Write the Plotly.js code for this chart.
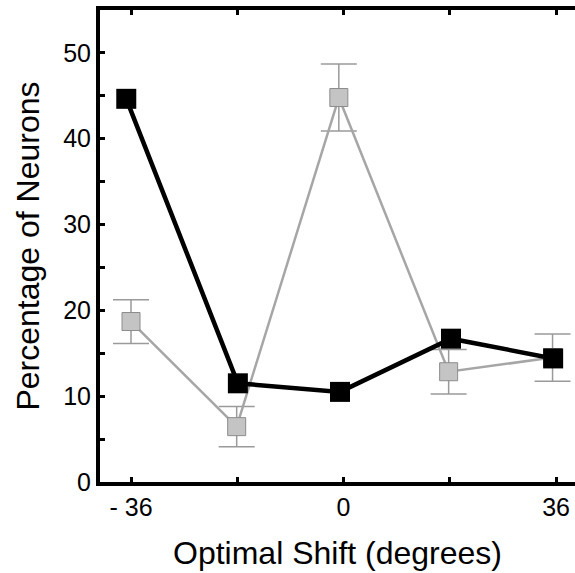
<!DOCTYPE html>
<html>
<head>
<meta charset="utf-8">
<script src="https://cdn.plot.ly/plotly-3.0.1.min.js"></script>
<style>html,body{margin:0;padding:0;background:#fff;}#chart{width:575px;height:573px;}</style>
</head>
<body>
<div id="chart"></div>
<script>
// Data
const blackX = [-36.8, -17.9, -0.6, 18.2, 35.5];
const blackY = [44.65, 11.5, 10.5, 16.7, 14.4];

const grayX = [-36, -18.1, -0.8, 17.8, 35.4];
const grayY = [18.7, 6.45, 44.8, 12.85, 14.5];
const grayErr = [2.55, 2.35, 3.9, 2.6, 2.75];

const xTickVals = [-36, -18, 0, 18, 36];
const xTickText = ['- 36', '', '0', '', '36'];
const yTickVals = [0, 5, 10, 15, 20, 25, 30, 35, 40, 45, 50];
const yTickText = ['0', '', '10', '', '20', '', '30', '', '40', '', '50'];

const FONT = '"Liberation Sans", Arial, Helvetica, sans-serif';

const traces = [
  {
    x: grayX, y: grayY, type: 'scatter', mode: 'lines+markers',
    line: {color: '#a6a6a6', width: 2.5},
    marker: {symbol: 'square', size: 18, color: '#c4c4c4', line: {color: '#8c8c8c', width: 1}},
    error_y: {type: 'data', array: grayErr, visible: true, color: '#9a9a9a', thickness: 1.5, width: 18},
    hoverinfo: 'skip', showlegend: false
  },
  {
    x: blackX, y: blackY, type: 'scatter', mode: 'lines+markers',
    line: {color: '#000000', width: 4.5},
    marker: {symbol: 'square', size: 20, color: '#000000'},
    hoverinfo: 'skip', showlegend: false
  }
];

const layout = {
  width: 575, height: 573,
  margin: {l: 100, r: 0, t: 10, b: 91, pad: 0},
  paper_bgcolor: '#ffffff', plot_bgcolor: '#ffffff',
  font: {family: FONT, color: '#000000', size: 25},
  showlegend: false,
  xaxis: {
    range: [-41.25, 39.2],
    tickmode: 'array', tickvals: xTickVals, ticktext: xTickText,
    ticks: 'inside', ticklen: 5, tickwidth: 3, tickcolor: '#000',
    showline: true, linewidth: 4, linecolor: '#000', mirror: 'ticks',
    showgrid: false, zeroline: false,
    tickfont: {family: FONT, size: 25, color: '#000'},
    ticklabelstandoff: 0,
    title: {text: 'Optimal Shift (degrees)', font: {family: FONT, size: 32, color: '#000'}, standoff: 23},
    automargin: false
  },
  yaxis: {
    range: [0, 55],
    tickmode: 'array', tickvals: yTickVals, ticktext: yTickText,
    ticks: 'inside', ticklen: 5, tickwidth: 3, tickcolor: '#000',
    showline: true, linewidth: 4, linecolor: '#000', mirror: false,
    showgrid: false, zeroline: false,
    tickfont: {family: FONT, size: 25, color: '#000'},
    ticklabelstandoff: 0,
    title: {text: 'Percentage of Neurons', font: {family: FONT, size: 32, color: '#000'}, standoff: 15},
    automargin: false
  }
};

Plotly.newPlot('chart', traces, layout, {displayModeBar: false, staticPlot: true});
</script>
</body>
</html>
